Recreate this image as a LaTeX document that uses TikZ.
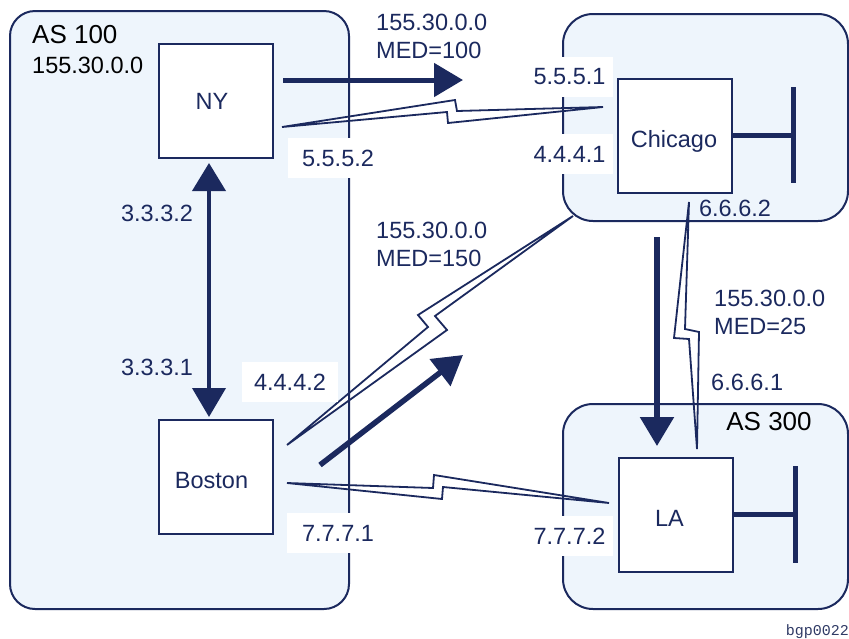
\documentclass[tikz,border=0pt]{standalone}
\usepackage{fontspec}
\setmainfont{Liberation Sans}
\newfontfamily\codefont{Liberation Mono}
\usetikzlibrary{arrows.meta}
\definecolor{navy}{RGB}{27,41,94}
\definecolor{asfill}{RGB}{238,245,252}
\begin{document}
\begin{tikzpicture}[x=1pt,y=-1pt,
  asfillst/.style={fill=asfill},
  asborder/.style={draw=navy, line width=2pt},
  router/.style={draw=navy, line width=2pt, fill=white, minimum width=114pt, minimum height=114pt, inner sep=0pt},
  lbl/.style={text=navy, font=\fontsize{23.5}{28}\selectfont, inner sep=0pt, align=left},
  rname/.style={lbl, anchor=base},
  wlbl/.style={lbl, fill=white, minimum height=40pt, align=center},
  aslbl/.style={text=black, font=\fontsize{26}{30}\selectfont, inner sep=0pt},
  serial/.style={draw=navy, fill=white, line width=1.8pt, line join=miter},
  bigarrow/.style={draw=navy, line width=5.5pt, -{Triangle[length=29pt,width=33pt]}},
  tbar/.style={draw=navy, line width=5pt}
]
\useasboundingbox (0,0) rectangle (849,638);

% AS area fills
\fill[asfillst, rounded corners=25pt] (10,11) rectangle (349,609);
\fill[asfillst, rounded corners=30pt] (563,14) rectangle (848,221);
\fill[asfillst, rounded corners=30pt] (563,404) rectangle (848,609);

% routers
\node[router] (NY) at (216,101) {};
\node[router] (Boston) at (216,477) {};
\node[router] (Chicago) at (674.5,135.5) {};
\node[router] (LA) at (676,514.5) {};
\node[rname] (NYt) at (212,109) {NY};
\node[rname] (Bostont) at (211.5,488) {Boston};
\node[rname] (Chicagot) at (674,147) {Chicago};
\node[rname] (LAt) at (669.5,526) {LA};

% serial links
\coordinate (nyL) at (282,127);
\coordinate (chR) at (603,107);
\draw[serial] (nyL) -- (455,100) -- (457,111) -- (chR) -- (448,123) -- (447,112) -- cycle;
\coordinate (boL) at (287,445);
\coordinate (chC) at (573,216);
\draw[serial] (boL) -- (428,327) -- (418,315) -- (chC) -- (435,316) -- (447,330) -- cycle;
\coordinate (boL2) at (287,483);
\coordinate (laL) at (609,503);
\draw[serial] (boL2) -- (433,488) -- (434,475) -- (laL) -- (443,487) -- (442,499) -- cycle;
\coordinate (chB) at (689,202);
\coordinate (laT) at (697,449);
\draw[serial] (chB) -- (674,338) -- (689,339) -- (laT) -- (699,332) -- (685,329) -- cycle;

% advertisement arrows
\coordinate (a1s) at (283,80);
\coordinate (a1e) at (463,80);
\draw[bigarrow, line width=5pt] (a1s) -- (a1e);
\coordinate (a2s) at (209,163);
\coordinate (a2e) at (209,417);
\draw[draw=navy, line width=4pt, {Triangle[length=28pt,width=33pt]}-{Triangle[length=29pt,width=33pt]}] (a2s) -- (a2e);
\coordinate (a3s) at (320,465);
\coordinate (a3e) at (463,355);
\draw[bigarrow] (a3s) -- (a3e);
\coordinate (a4s) at (657,237);
\coordinate (a4e) at (657,446);
\draw[bigarrow] (a4s) -- (a4e);

% AS borders
\draw[asborder, rounded corners=25pt] (10,11) rectangle (349,609);
\draw[asborder, rounded corners=30pt] (563,14) rectangle (848,221);
\draw[asborder, rounded corners=30pt] (563,404) rectangle (848,609);

% T bars (LANs)
\coordinate (chT) at (793,135.5);
\draw[tbar] (Chicago.east) -- (chT);
\coordinate (chT1) at (793,87);
\coordinate (chT2) at (793,183);
\draw[tbar] (chT1) -- (chT2);
\coordinate (laTb) at (795,514.5);
\draw[tbar] (LA.east) -- (laTb);
\coordinate (laT1) at (795,466);
\coordinate (laT2) at (795,563);
\draw[tbar] (laT1) -- (laT2);

% white-backed interface labels
\node[wlbl, minimum width=87pt] (l5551) at (569.5,77) {5.5.5.1};
\node[wlbl, minimum width=87pt] (l4441) at (569.5,154) {4.4.4.1};
\node[wlbl, minimum width=100pt] (l5552) at (338,158) {5.5.5.2};
\node[wlbl, minimum width=96pt] (l4442) at (290,382) {4.4.4.2};
\node[wlbl, minimum width=102pt] (l7771) at (338,533) {7.7.7.1};
\node[wlbl, minimum width=87pt] (l7772) at (569.5,536) {7.7.7.2};

% plain labels
\node[lbl] (l3332) at (157,213) {3.3.3.2};
\node[lbl] (l3331) at (157,367) {3.3.3.1};
\node[lbl] (l6662) at (735,208) {6.6.6.2};
\node[lbl, anchor=west] (l6661) at (711,382) {6.6.6.1};
\node[lbl, anchor=west] (med100) at (376,36) {155.30.0.0\\MED=100};
\node[lbl, anchor=west] (med150) at (376,244) {155.30.0.0\\MED=150};
\node[lbl, anchor=west] (med25) at (714,312) {155.30.0.0\\MED=25};

% AS labels
\node[aslbl, anchor=west] (as100) at (32,35) {AS 100};
\node[lbl, text=black, anchor=west] (pfx) at (32,65) {155.30.0.0};
\node[aslbl] (as300) at (769,422) {AS 300};

\node[inner sep=0pt, anchor=east, text=navy!80!gray, font=\codefont\fontsize{15}{18}\selectfont] (code) at (849,632) {bgp0022};
\end{tikzpicture}
\end{document}
